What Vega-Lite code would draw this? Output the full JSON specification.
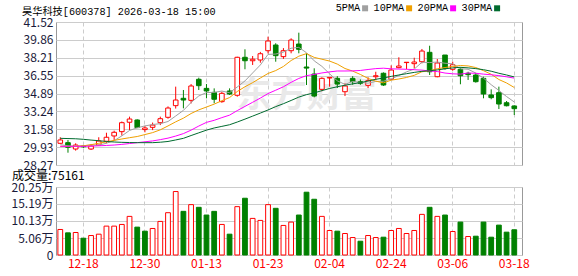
{
  "$schema": "https://vega.github.io/schema/vega-lite/v6.json",
  "background": "#ffffff",
  "padding": {"left": 10, "top": 3, "right": 0, "bottom": 0},
  "config": {
    "font": "Noto Sans CJK SC",
    "view": {"stroke": "#999999", "strokeWidth": 1},
    "axis": {"labelFont": "Noto Sans CJK SC", "labelFontSize": 12, "ticks": false, "domain": false, "gridColor": "#cccccc", "gridWidth": 1}
  },
  "datasets": {
    "k": [
      {"d":"12-15","o":30.28,"h":30.84,"l":30.25,"c":30.59,"v":7.6,"vu":1,"5PMA":30.15,"10PMA":30.00,"20PMA":30.00,"30PMA":30.74},
      {"d":"12-16","o":30.34,"h":30.59,"l":29.41,"c":29.91,"v":6.6,"vu":0,"5PMA":30.05,"10PMA":29.98,"20PMA":30.00,"30PMA":30.72},
      {"d":"12-17","o":29.75,"h":30.28,"l":29.60,"c":30.12,"v":6.7,"vu":1,"5PMA":30.02,"10PMA":30.00,"20PMA":30.00,"30PMA":30.70},
      {"d":"12-18","o":30.02,"h":30.10,"l":29.85,"c":29.96,"v":5.0,"vu":0,"5PMA":30.05,"10PMA":30.05,"20PMA":30.00,"30PMA":30.65},
      {"d":"12-19","o":29.75,"h":30.20,"l":29.66,"c":30.03,"v":5.8,"vu":1,"5PMA":30.12,"10PMA":30.15,"20PMA":30.02,"30PMA":30.58},
      {"d":"12-22","o":30.12,"h":30.84,"l":30.10,"c":30.49,"v":6.2,"vu":1,"5PMA":30.10,"10PMA":30.28,"20PMA":30.05,"30PMA":30.52},
      {"d":"12-23","o":30.47,"h":31.26,"l":30.28,"c":30.84,"v":8.6,"vu":1,"5PMA":30.29,"10PMA":30.42,"20PMA":30.08,"30PMA":30.45},
      {"d":"12-24","o":30.96,"h":31.45,"l":30.59,"c":31.30,"v":8.6,"vu":1,"5PMA":30.52,"10PMA":30.55,"20PMA":30.12,"30PMA":30.40},
      {"d":"12-25","o":31.36,"h":32.30,"l":31.00,"c":32.19,"v":9.1,"vu":1,"5PMA":30.97,"10PMA":30.68,"20PMA":30.18,"30PMA":30.37},
      {"d":"12-26","o":32.23,"h":32.75,"l":31.50,"c":32.53,"v":11.5,"vu":1,"5PMA":31.47,"10PMA":30.80,"20PMA":30.26,"30PMA":30.35},
      {"d":"12-29","o":32.44,"h":32.50,"l":31.70,"c":31.73,"v":8.3,"vu":0,"5PMA":31.72,"10PMA":30.91,"20PMA":30.34,"30PMA":30.34},
      {"d":"12-30","o":31.55,"h":31.90,"l":31.30,"c":31.70,"v":7.1,"vu":0,"5PMA":31.89,"10PMA":31.09,"20PMA":30.42,"30PMA":30.34},
      {"d":"12-31","o":31.76,"h":32.20,"l":31.50,"c":31.97,"v":7.9,"vu":1,"5PMA":32.02,"10PMA":31.27,"20PMA":30.50,"30PMA":30.34},
      {"d":"01-05","o":32.19,"h":32.75,"l":31.97,"c":32.56,"v":10.0,"vu":1,"5PMA":32.10,"10PMA":31.53,"20PMA":30.62,"30PMA":30.38},
      {"d":"01-06","o":32.69,"h":33.70,"l":32.56,"c":33.55,"v":12.6,"vu":1,"5PMA":32.30,"10PMA":31.89,"20PMA":30.76,"30PMA":30.45},
      {"d":"01-07","o":33.77,"h":35.53,"l":33.50,"c":34.29,"v":18.9,"vu":1,"5PMA":32.81,"10PMA":32.27,"20PMA":30.95,"30PMA":30.59},
      {"d":"01-08","o":34.45,"h":35.22,"l":33.52,"c":34.29,"v":13.0,"vu":0,"5PMA":33.33,"10PMA":32.61,"20PMA":31.18,"30PMA":30.74},
      {"d":"01-09","o":34.26,"h":35.77,"l":33.97,"c":35.59,"v":15.0,"vu":1,"5PMA":34.06,"10PMA":33.04,"20PMA":31.50,"30PMA":31.00},
      {"d":"01-12","o":36.21,"h":36.36,"l":35.22,"c":35.62,"v":14.2,"vu":0,"5PMA":34.67,"10PMA":33.38,"20PMA":31.88,"30PMA":31.25},
      {"d":"01-13","o":35.37,"h":35.77,"l":34.45,"c":35.13,"v":11.9,"vu":0,"5PMA":34.98,"10PMA":33.64,"20PMA":32.22,"30PMA":31.50},
      {"d":"01-14","o":35.00,"h":35.37,"l":33.99,"c":34.36,"v":13.0,"vu":0,"5PMA":35.00,"10PMA":33.91,"20PMA":32.41,"30PMA":31.70},
      {"d":"01-15","o":34.14,"h":35.06,"l":34.04,"c":34.91,"v":9.1,"vu":1,"5PMA":35.12,"10PMA":34.23,"20PMA":32.66,"30PMA":31.85},
      {"d":"01-16","o":35.13,"h":35.37,"l":34.76,"c":34.85,"v":6.2,"vu":0,"5PMA":34.97,"10PMA":34.52,"20PMA":32.89,"30PMA":32.00},
      {"d":"01-19","o":34.73,"h":38.30,"l":34.60,"c":38.25,"v":14.4,"vu":1,"5PMA":35.50,"10PMA":35.08,"20PMA":33.31,"30PMA":32.25},
      {"d":"01-20","o":38.25,"h":38.99,"l":37.14,"c":37.93,"v":16.9,"vu":0,"5PMA":36.06,"10PMA":35.52,"20PMA":33.70,"30PMA":32.52},
      {"d":"01-21","o":37.93,"h":38.37,"l":37.54,"c":38.07,"v":10.9,"vu":1,"5PMA":36.80,"10PMA":35.90,"20PMA":34.08,"30PMA":32.80},
      {"d":"01-22","o":38.00,"h":38.75,"l":37.75,"c":38.58,"v":10.3,"vu":1,"5PMA":37.54,"10PMA":36.33,"20PMA":34.47,"30PMA":33.08},
      {"d":"01-23","o":38.86,"h":40.16,"l":38.60,"c":39.76,"v":15.0,"vu":1,"5PMA":38.52,"10PMA":36.75,"20PMA":34.89,"30PMA":33.37},
      {"d":"01-26","o":39.39,"h":39.55,"l":37.84,"c":38.40,"v":13.9,"vu":0,"5PMA":38.55,"10PMA":37.02,"20PMA":35.20,"30PMA":33.68},
      {"d":"01-27","o":38.31,"h":39.10,"l":38.10,"c":38.86,"v":8.8,"vu":1,"5PMA":38.73,"10PMA":37.40,"20PMA":35.52,"30PMA":33.95},
      {"d":"01-28","o":38.86,"h":40.01,"l":38.62,"c":39.85,"v":9.8,"vu":1,"5PMA":39.09,"10PMA":37.95,"20PMA":35.93,"30PMA":34.25},
      {"d":"01-29","o":39.48,"h":40.53,"l":38.62,"c":38.99,"v":11.9,"vu":0,"5PMA":39.17,"10PMA":38.35,"20PMA":36.29,"30PMA":34.56},
      {"d":"01-30","o":37.35,"h":38.62,"l":35.68,"c":37.25,"v":18.7,"vu":0,"5PMA":38.67,"10PMA":38.59,"20PMA":36.55,"30PMA":34.79},
      {"d":"02-02","o":36.70,"h":37.23,"l":34.54,"c":34.66,"v":16.6,"vu":0,"5PMA":37.92,"10PMA":38.24,"20PMA":36.66,"30PMA":34.95},
      {"d":"02-03","o":35.28,"h":36.40,"l":35.10,"c":36.30,"v":11.5,"vu":1,"5PMA":37.41,"10PMA":38.07,"20PMA":36.80,"30PMA":35.16},
      {"d":"02-04","o":36.33,"h":36.42,"l":35.53,"c":36.39,"v":7.3,"vu":1,"5PMA":36.72,"10PMA":37.90,"20PMA":36.90,"30PMA":35.36},
      {"d":"02-05","o":36.30,"h":36.50,"l":35.40,"c":35.77,"v":7.1,"vu":0,"5PMA":36.07,"10PMA":37.62,"20PMA":36.98,"30PMA":35.52},
      {"d":"02-06","o":35.06,"h":35.84,"l":34.66,"c":35.59,"v":6.4,"vu":1,"5PMA":35.74,"10PMA":37.21,"20PMA":36.98,"30PMA":35.66},
      {"d":"02-09","o":36.30,"h":36.50,"l":35.70,"c":35.99,"v":5.2,"vu":1,"5PMA":36.01,"10PMA":36.97,"20PMA":36.99,"30PMA":35.79},
      {"d":"02-10","o":35.99,"h":36.20,"l":35.70,"c":35.84,"v":4.1,"vu":0,"5PMA":35.92,"10PMA":36.66,"20PMA":37.03,"30PMA":35.90},
      {"d":"02-11","o":35.65,"h":36.40,"l":35.40,"c":36.08,"v":5.8,"vu":1,"5PMA":35.85,"10PMA":36.29,"20PMA":37.12,"30PMA":36.05},
      {"d":"02-12","o":36.45,"h":36.91,"l":36.15,"c":36.54,"v":5.2,"vu":1,"5PMA":36.01,"10PMA":36.04,"20PMA":37.20,"30PMA":36.21},
      {"d":"02-13","o":36.77,"h":36.85,"l":35.60,"c":35.68,"v":5.3,"vu":0,"5PMA":36.03,"10PMA":35.88,"20PMA":37.24,"30PMA":36.33},
      {"d":"02-24","o":36.21,"h":37.50,"l":36.15,"c":37.07,"v":7.3,"vu":1,"5PMA":36.24,"10PMA":36.13,"20PMA":37.18,"30PMA":36.48},
      {"d":"02-25","o":37.29,"h":38.25,"l":37.23,"c":37.44,"v":7.9,"vu":1,"5PMA":36.56,"10PMA":36.24,"20PMA":37.16,"30PMA":36.61},
      {"d":"02-26","o":37.76,"h":37.81,"l":37.14,"c":37.79,"v":6.4,"vu":1,"5PMA":36.90,"10PMA":36.38,"20PMA":37.14,"30PMA":36.73},
      {"d":"02-27","o":37.66,"h":38.21,"l":37.23,"c":37.81,"v":7.3,"vu":1,"5PMA":37.16,"10PMA":36.58,"20PMA":37.10,"30PMA":36.85},
      {"d":"03-02","o":37.84,"h":39.02,"l":37.69,"c":38.83,"v":12.1,"vu":1,"5PMA":37.79,"10PMA":36.91,"20PMA":37.06,"30PMA":36.95},
      {"d":"03-03","o":38.71,"h":39.32,"l":36.61,"c":36.91,"v":14.2,"vu":0,"5PMA":37.76,"10PMA":37.00,"20PMA":36.98,"30PMA":37.00},
      {"d":"03-04","o":36.45,"h":38.09,"l":36.40,"c":37.72,"v":11.5,"vu":1,"5PMA":37.81,"10PMA":37.19,"20PMA":36.93,"30PMA":37.08},
      {"d":"03-05","o":38.46,"h":38.46,"l":37.10,"c":37.23,"v":11.9,"vu":0,"5PMA":37.70,"10PMA":37.30,"20PMA":36.79,"30PMA":37.18},
      {"d":"03-06","o":37.14,"h":37.84,"l":37.00,"c":37.56,"v":7.0,"vu":1,"5PMA":37.65,"10PMA":37.40,"20PMA":36.72,"30PMA":37.27},
      {"d":"03-09","o":37.14,"h":37.32,"l":35.75,"c":36.54,"v":9.8,"vu":0,"5PMA":37.19,"10PMA":37.49,"20PMA":36.69,"30PMA":37.32},
      {"d":"03-10","o":36.77,"h":36.91,"l":36.15,"c":36.64,"v":5.5,"vu":1,"5PMA":37.14,"10PMA":37.45,"20PMA":36.79,"30PMA":37.27},
      {"d":"03-11","o":36.61,"h":36.80,"l":35.90,"c":35.99,"v":5.6,"vu":0,"5PMA":36.79,"10PMA":37.30,"20PMA":36.77,"30PMA":37.20},
      {"d":"03-12","o":36.30,"h":36.45,"l":34.45,"c":34.85,"v":9.8,"vu":0,"5PMA":36.32,"10PMA":37.01,"20PMA":36.69,"30PMA":37.10},
      {"d":"03-13","o":34.76,"h":35.28,"l":34.36,"c":34.51,"v":5.3,"vu":0,"5PMA":35.71,"10PMA":36.68,"20PMA":36.63,"30PMA":36.96},
      {"d":"03-16","o":34.97,"h":35.53,"l":33.46,"c":33.92,"v":8.9,"vu":0,"5PMA":35.18,"10PMA":36.19,"20PMA":36.55,"30PMA":36.77},
      {"d":"03-17","o":34.04,"h":34.20,"l":33.70,"c":33.76,"v":6.8,"vu":0,"5PMA":34.61,"10PMA":35.87,"20PMA":36.44,"30PMA":36.61},
      {"d":"03-18","o":33.74,"h":33.80,"l":32.90,"c":33.49,"v":7.5161,"vu":0,"5PMA":34.11,"10PMA":35.45,"20PMA":36.32,"30PMA":36.43}
    ]
  },
  "vconcat": [
    {
      "width": 466,
      "height": 143,
      "title": {"text": "昊华科技[600378] 2026-03-18 15:00", "anchor": "start", "font": "Liberation Mono, Noto Sans CJK SC", "fontSize": 10.2, "fontWeight": "normal", "color": "#000000", "offset": -1, "dx": -1},
      "data": {"name": "k"},
      "encoding": {
        "x": {"field": "d", "type": "ordinal", "sort": null,
              "scale": {"paddingInner": 0, "paddingOuter": 0.28, "align": 0.1},
              "axis": {"title": null, "labels": false, "grid": true, "gridDash": [4, 3], "values": ["12-18","12-30","01-13","01-23","02-04","02-24","03-06","03-18"]}},
        "y": {"field": "l", "type": "quantitative",
              "scale": {"domain": [28.27, 41.52], "zero": false, "nice": false},
              "axis": {"title": null, "values": [28.27, 29.93, 31.58, 33.24, 34.89, 36.55, 38.21, 39.86, 41.52], "format": ".2f", "labelColor": "#1a1a3a", "labelPadding": 3, "grid": true}}
      },
      "layer": [
        {
          "mark": {"type": "text", "fontSize": 35, "fontWeight": "bold", "color": "#e9e9e9"},
          "encoding": {
            "y": {"datum": 34.66, "type": "quantitative",
                  "scale": {"domain": [28.27, 41.52], "zero": false, "nice": false},
                  "axis": {"title": null, "values": [28.27, 29.93, 31.58, 33.24, 34.89, 36.55, 38.21, 39.86, 41.52], "format": ".2f", "labelColor": "#1a1a3a", "labelPadding": 3, "grid": true}},
            "text": {"condition": {"test": "datum.d == '01-30'", "value": "东方财富"}, "value": ""}
          }
        },
        {
          "mark": {"type": "rule", "strokeWidth": 1},
          "encoding": {
            "y2": {"field": "h"},
            "stroke": {"condition": {"test": "datum.c >= datum.o", "value": "#ff0000"}, "value": "#008000"}
          }
        },
        {
          "mark": {"type": "bar", "width": {"band": 0.6}, "strokeWidth": 1},
          "encoding": {
            "y": {"field": "o", "type": "quantitative",
                  "axis": {"title": null, "values": [28.27, 29.93, 31.58, 33.24, 34.89, 36.55, 38.21, 39.86, 41.52], "format": ".2f", "labelColor": "#1a1a3a", "labelPadding": 3, "grid": true}},
            "y2": {"field": "c"},
            "fill": {"condition": {"test": "datum.c >= datum.o", "value": "#ffffff"}, "value": "#008000"},
            "stroke": {"condition": {"test": "datum.c >= datum.o", "value": "#ff0000"}, "value": "#008000"}
          }
        },
        {
          "transform": [{"fold": ["5PMA", "10PMA", "20PMA", "30PMA"], "as": ["key", "val"]}],
          "mark": {"type": "line", "strokeWidth": 1},
          "encoding": {
            "y": {"field": "val", "type": "quantitative",
                  "axis": {"title": null, "values": [28.27, 29.93, 31.58, 33.24, 34.89, 36.55, 38.21, 39.86, 41.52], "format": ".2f", "labelColor": "#1a1a3a", "labelPadding": 3, "grid": true}},
            "order": {"value": null},
            "color": {"field": "key", "type": "nominal",
                      "scale": {"domain": ["5PMA", "10PMA", "20PMA", "30PMA"], "range": ["#a0a0a0", "#f0a000", "#ff00ff", "#006b2f"]},
                      "legend": {"orient": "none", "legendX": 304, "legendY": -19, "direction": "horizontal", "title": null,
                                 "symbolType": "square", "symbolSize": 9, "symbolStrokeWidth": 3,
                                 "labelFont": "Liberation Mono", "labelFontSize": 10.2, "labelColor": "#000000", "labelAlign": "right", "labelOffset": -10, "columnPadding": 0}}
          }
        }
      ]
    },
    {
      "width": 466,
      "height": 68,
      "title": {"text": "成交量:75161", "anchor": "start", "fontSize": 12, "fontWeight": "normal", "color": "#000000", "offset": -2, "dx": 1},
      "data": {"name": "k"},
      "mark": {"type": "bar", "width": {"band": 0.62}, "strokeWidth": 1},
      "encoding": {
        "x": {"field": "d", "type": "ordinal", "sort": null,
              "scale": {"paddingInner": 0, "paddingOuter": 0.28, "align": 0.1},
              "axis": {"title": null, "labelAngle": 0, "labelColor": "#ff0000", "labelPadding": 3, "grid": true, "gridDash": [4, 3], "values": ["12-18","12-30","01-13","01-23","02-04","02-24","03-06","03-18"]}},
        "y": {"field": "v", "type": "quantitative",
              "scale": {"domain": [0, 20.25], "nice": false},
              "axis": {"title": null, "values": [0, 5.06, 10.13, 15.19, 20.25], "labelExpr": "datum.value == 0 ? '0' : format(datum.value, '.2f') + '万'", "labelColor": "#1a1a3a", "labelPadding": 3, "grid": true}},
        "fill": {"condition": {"test": "datum.vu == 1", "value": "#ffffff"}, "value": "#008000"},
        "stroke": {"condition": {"test": "datum.vu == 1", "value": "#ff0000"}, "value": "#008000"}
      }
    }
  ],
  "spacing": 22,
  "bounds": "flush"
}
